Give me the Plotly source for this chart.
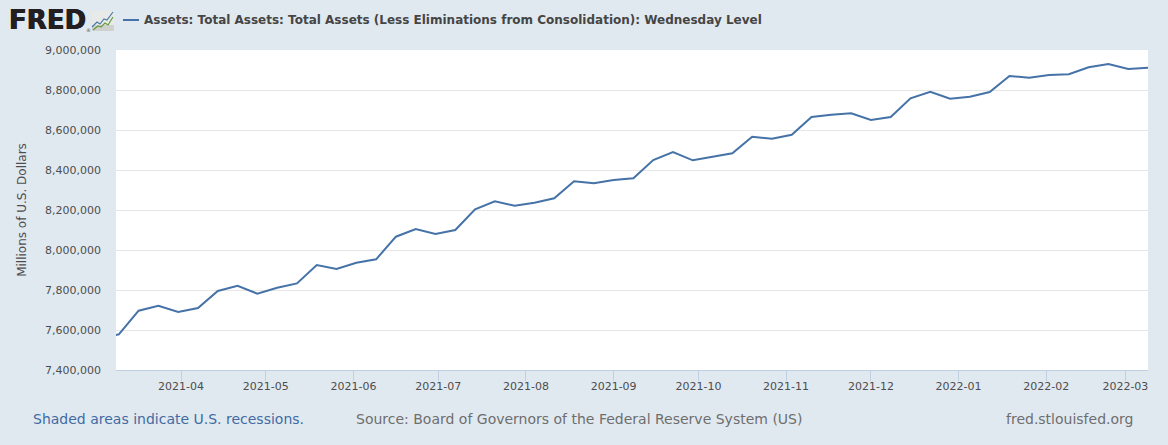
import plotly.graph_objects as go
import pandas as pd

W, H = 1168, 445
L, R, T, B = 116, 1148, 50, 370

series_name = "Assets: Total Assets: Total Assets (Less Eliminations from Consolidation): Wednesday Level"
y_title = "Millions of U.S. Dollars"
start_date = "2021-03-03"
dates = pd.date_range(start_date, periods=54, freq="7D")
values = [
    7555000, 7578500, 7696500, 7721500, 7690000, 7710000, 7795000, 7821500, 7781500,
    7811000, 7833000, 7925000, 7905000, 7936500, 7953500, 8066500, 8105000, 8080000,
    8100000, 8203500, 8243500, 8221500, 8236500, 8258500, 8343500, 8333500, 8350000,
    8358500, 8450000, 8490000, 8448500, 8466500, 8483500, 8566500, 8556500, 8576500,
    8665000, 8676500, 8683500, 8650000, 8665000, 8758500, 8791500, 8756500, 8766500,
    8790000, 8870000, 8861500, 8875000, 8878500, 8913500, 8930000, 8905000, 8911500,
]
y_ticks = [7400000 + 200000 * i for i in range(9)]
x_ticks = ["2021-04-01", "2021-05-01", "2021-06-01", "2021-07-01", "2021-08-01", "2021-09-01",
           "2021-10-01", "2021-11-01", "2021-12-01", "2022-01-01", "2022-02-01", "2022-03-01"]
x_tick_labels = [d[:7] for d in x_ticks]

BG = "#e1e9f0"
LINE = "#4572a7"
FONT = "DejaVu Sans"

def px(x):
    return (x - L) / (R - L)
def py(y):
    return (B - y) / (B - T)

def path(points, close=False):
    return "M " + " L ".join(f"{px(a):.5f} {py(b):.5f}" for a, b in points) + (" Z" if close else "")

fig = go.Figure(go.Scatter(x=dates, y=values, mode="lines", name=series_name,
                           line=dict(color=LINE, width=2), hoverinfo="x+y"))

def text(x, y, s, size, color, anchor="left", weight=None, family=FONT, shadow=None):
    fig.add_annotation(xref="paper", yref="paper", x=px(x), y=py(y), text=s, showarrow=False,
                       xanchor=anchor, yanchor="middle", borderpad=0, borderwidth=0,
                       font=dict(family=family, size=size, color=color, weight=weight, shadow=shadow))

text(9, 20.5, "FRED", 26, "#231f20", weight=700, shadow="0.4px 0 0 #231f20, -0.4px 0 0 #231f20")
text(86, 30, "®", 5, "#555555")
text(144, 20, series_name, 12, "#454545", weight=700)
text(33, 419, "Shaded areas indicate U.S. recessions.", 14, "#426ba3")
text(356, 419, "Source: Board of Governors of the Federal Reserve System (US)", 14, "#6e6e6e")
text(1133, 419, "fred.stlouisfed.org", 14, "#6e6e6e", anchor="right")

shapes = [
    dict(type="line", xref="paper", yref="paper", x0=px(123), x1=px(139), y0=py(20), y1=py(20),
         line=dict(color=LINE, width=2)),
    dict(type="path", xref="paper", yref="paper",
         path=path([(93, 11), (113, 11), (114, 12), (114, 30), (113, 31), (93, 31), (92, 30), (92, 12)], True),
         fillcolor="#e8eae8", line=dict(width=0)),
    dict(type="path", xref="paper", yref="paper",
         path=path([(92, 25), (114, 25), (114, 30), (113, 31), (93, 31), (92, 30)], True),
         fillcolor="#cfd1cf", line=dict(width=0)),
    dict(type="path", xref="paper", yref="paper",
         path=path([(92, 27), (97, 22), (100, 24), (104, 19), (107, 20), (113, 12)]),
         line=dict(color="#4a7ba6", width=1.2)),
    dict(type="path", xref="paper", yref="paper",
         path=path([(93, 30), (98, 26), (101, 27), (105, 23), (108, 25), (113, 17)]),
         line=dict(color="#6a9a3c", width=1.2)),
]

fig.update_layout(
    width=W, height=H, autosize=False,
    paper_bgcolor=BG, plot_bgcolor="#ffffff",
    margin=dict(l=L, r=W - R, t=T, b=H - B, pad=0),
    showlegend=False, shapes=shapes,
    font=dict(family=FONT, size=11, color="#4d4d4d"),
    xaxis=dict(range=["2021-03-09", "2022-03-09"], tickvals=x_ticks, ticktext=x_tick_labels,
               showgrid=False, zeroline=False, showline=True, linecolor="#c0d0e0", linewidth=1,
               ticks="outside", ticklen=10, tickcolor="#c0d0e0", tickwidth=1,
               ticklabelstandoff=-4, tickfont=dict(size=11, color="#4d4d4d")),
    yaxis=dict(range=[7400000, 9000000], tickvals=y_ticks, tickformat=",d",
               showgrid=True, gridcolor="#e6e6e6", gridwidth=1, zeroline=False, showline=False,
               ticks="", ticklabelstandoff=14, tickfont=dict(size=11, color="#4d4d4d"),
               title=dict(text=y_title, font=dict(size=12, color="#4d4d4d"), standoff=15)),
)

fig.write_html("out.html", post_script="document.body.style.margin='0';",
               config=dict(displayModeBar=False))
